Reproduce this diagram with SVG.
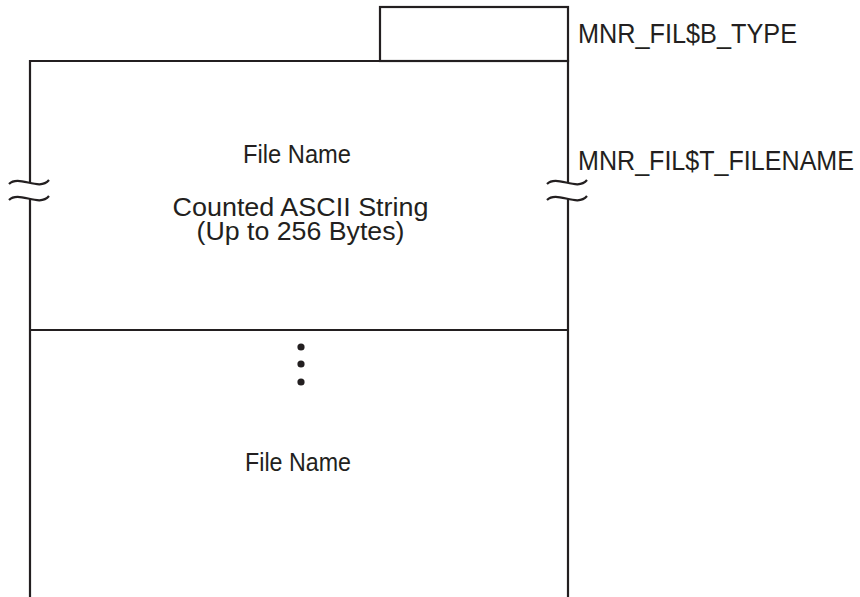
<svg xmlns="http://www.w3.org/2000/svg" width="860" height="597" viewBox="0 0 860 597">
<style>
.ln{stroke:#231f20;stroke-width:2.2;fill:none}
.t{font-family:"Liberation Sans",Arial,sans-serif;font-size:26px;fill:#231f20}
.lab{font-family:"Liberation Sans",Arial,sans-serif;font-size:28px;fill:#231f20}
</style>
<rect width="860" height="597" fill="#fff"/>
<g id="type-field">
<rect class="ln" x="380" y="7" width="188" height="54"/>
</g>
<g id="filename-field">
<path class="ln" d="M30,597 V198 M30,183 V61 H568 V183 M568,198 V597"/>
<path class="ln" d="M9,184 C19,174 39,192 49,180 M9,200 C19,190 39,208 49,196"/>
<path class="ln" d="M547,184 C557,174 577,192 587,180 M547,200 C557,190 577,208 587,196"/>
<text class="t" x="297" y="163" text-anchor="middle" textLength="108" lengthAdjust="spacingAndGlyphs">File Name</text>
<text class="t" x="300.5" y="216" text-anchor="middle" textLength="256" lengthAdjust="spacingAndGlyphs">Counted ASCII String</text>
<text class="t" x="300.5" y="240" text-anchor="middle" textLength="208" lengthAdjust="spacingAndGlyphs">(Up to 256 Bytes)</text>
</g>
<g id="next-filename">
<line class="ln" x1="30" y1="330" x2="568" y2="330"/>
<circle cx="301" cy="347" r="3.6" fill="#231f20"/>
<circle cx="301" cy="364" r="3.6" fill="#231f20"/>
<circle cx="301" cy="382" r="3.6" fill="#231f20"/>
<text class="t" x="298" y="471" text-anchor="middle" textLength="106" lengthAdjust="spacingAndGlyphs">File Name</text>
</g>
<g id="labels">
<text class="lab" x="578" y="43" textLength="219" lengthAdjust="spacingAndGlyphs">MNR_FIL$B_TYPE</text>
<text class="lab" x="578" y="170" textLength="276" lengthAdjust="spacingAndGlyphs">MNR_FIL$T_FILENAME</text>
</g>
</svg>
